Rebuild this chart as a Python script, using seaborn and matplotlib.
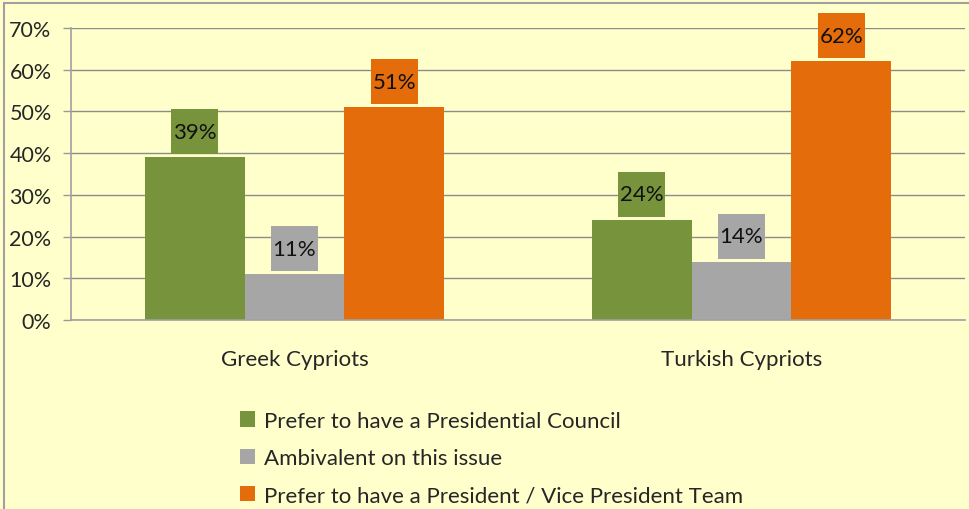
import matplotlib
matplotlib.use('Agg')
import matplotlib.pyplot as plt
import seaborn as sns
import pandas as pd
from matplotlib.patches import Rectangle
from matplotlib.ticker import PercentFormatter

groups = ['Greek Cypriots', 'Turkish Cypriots']
series = ['Prefer to have a Presidential Council',
          'Ambivalent on this issue',
          'Prefer to have a President / Vice President Team']
council = [39, 24]
ambivalent = [11, 14]
team = [51, 62]
colors = ['#77933C', '#A6A6A6', '#E46C0A']

rows = []
for name, vals in zip(series, [council, ambivalent, team]):
    for g, v in zip(groups, vals):
        rows.append({'group': g, 'series': name, 'value': v})
df = pd.DataFrame(rows)

sns.set_style('white')
plt.rcParams['font.family'] = ['Lato', 'DejaVu Sans']

bg = '#FFFFCC'
fig = plt.figure(figsize=(9.7, 5.1), dpi=100, facecolor=bg)
ax = fig.add_axes([0.0732, 0.3706, 0.9216, 0.5725])
ax.set_facecolor(bg)

sns.barplot(data=df, x='group', y='value', hue='series', order=groups,
            hue_order=series, palette=colors, width=0.67, gap=0,
            saturation=1, edgecolor='none', linewidth=0, ax=ax)

ax.set_ylim(0, 70)
ax.set_xlim(-0.5, 1.5)

# value labels in coloured boxes (box ~47x45 px, 3 px above the bar)
px_y = 70 / 292.0
px_x = 2 / 894.0
box_w, box_h, gap_px = 47 * px_x, 45 * px_y, 3 * px_y
for cont, col in zip(ax.containers, colors):
    for bar in cont:
        h = bar.get_height()
        cx = bar.get_x() + bar.get_width() / 2
        ax.add_patch(Rectangle((cx - box_w / 2, h + gap_px), box_w, box_h,
                               fc=col, ec='none', zorder=3, clip_on=False))
        ax.text(cx, h + gap_px + box_h / 2, f'{h:.0f}%', ha='center',
                va='center', fontsize=16, color='#111111', zorder=4)

ax.set_yticks(range(0, 71, 10))
ax.yaxis.set_major_formatter(PercentFormatter(decimals=0))
ax.yaxis.grid(True, color='#8C8C8C', linewidth=1)
ax.set_axisbelow(True)
ax.set_xlabel('')
ax.set_ylabel('')

ax.set_xticks([-0.5, 0.5, 1.5], minor=True)
ax.tick_params(axis='x', which='major', length=0, pad=21, labelsize=16)
ax.tick_params(axis='x', which='minor', length=6, color='#999999', width=1)
ax.tick_params(axis='y', length=6, color='#999999', width=1, labelsize=15.5,
               pad=8, left=True)

for s in ['top', 'right']:
    ax.spines[s].set_visible(False)
for s in ['left', 'bottom']:
    ax.spines[s].set_color('#A0A0A0')
    ax.spines[s].set_linewidth(1.2)

handles, labels = ax.get_legend_handles_labels()
ax.legend_.remove()
fig.legend(handles, labels, loc='upper left', bbox_to_anchor=(0.238, 0.21),
           frameon=False, fontsize=16, handlelength=0.7, handleheight=0.7,
           handletextpad=0.4, labelspacing=0.78, borderaxespad=0)

fig.patches.append(Rectangle((0.004, -0.1), 1.2, 1.092, transform=fig.transFigure,
                             fill=False, ec='#A0A0A0', lw=1.5))

fig.savefig('out.png', dpi=100, facecolor=bg)
